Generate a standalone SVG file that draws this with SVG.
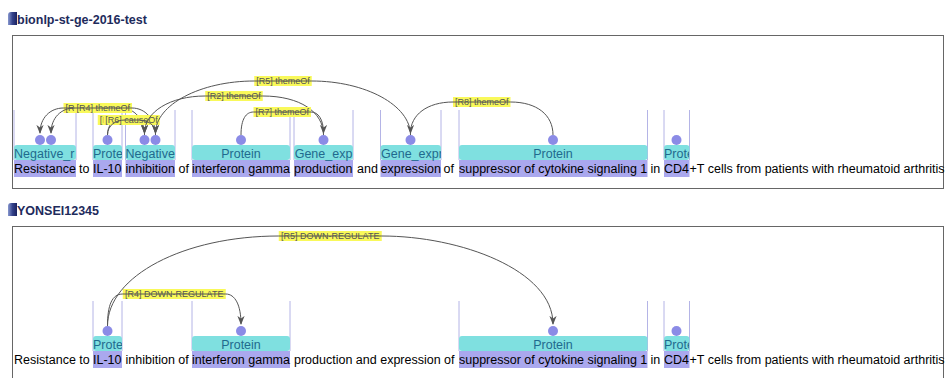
<svg xmlns="http://www.w3.org/2000/svg" width="946" height="378" viewBox="0 0 946 378">
<defs>
<style>
.title{font:bold 12.5px "Liberation Sans",Arial,sans-serif;fill:#1e2b5c}
.sent{font:12.5px "Liberation Sans",Arial,sans-serif;fill:#000}
.lbl{font:12.5px "Liberation Sans",Arial,sans-serif;fill:#1f6a8e}
.hl{fill:#aaa8ee}
.box{fill:#7fe0e0}
.dot{fill:#8b8be6}
.vl{stroke:#b4b4e6;stroke-width:1}
.arc{fill:none;stroke:#555;stroke-width:1;marker-end:url(#arr)}
.al{fill:#f9f95a}
.at{font:9px "Liberation Sans",Arial,sans-serif;fill:#555;text-anchor:middle}
.panel{fill:#fff;stroke:#666;stroke-width:1}
.mid{text-anchor:middle}
</style>
<marker id="arr" viewBox="0 0 10 10" refX="9" refY="5" markerWidth="9" markerHeight="9" markerUnits="userSpaceOnUse" orient="auto">
<path d="M0,1 L10,5 L0,9 L3,5 z" fill="#555"/>
</marker>
<linearGradient id="ico" x1="0" y1="0" x2="1" y2="0">
<stop offset="0" stop-color="#8898d0"/>
<stop offset="0.5" stop-color="#34428a"/>
<stop offset="1" stop-color="#1a2260"/>
</linearGradient>
<clipPath id="c1"><rect x="14" y="140" width="62" height="22"/></clipPath>
<clipPath id="c2"><rect x="93" y="140" width="29" height="22"/></clipPath>
<clipPath id="c6"><rect x="380.5" y="140" width="60.5" height="22"/></clipPath>
<clipPath id="c8"><rect x="664" y="140" width="25" height="22"/></clipPath>
</defs>
<rect width="946" height="378" fill="#fff"/>

<!-- Panel 1 -->
<g id="panel1">
<path d="M8,15 Q8,12 11,12 L17,12 L17,25 L8,25 Z" fill="url(#ico)"/>
<text class="title" x="17" y="24">bionlp-st-ge-2016-test</text>
<rect class="panel" x="12.5" y="35.5" width="931" height="153"/>
<g id="p1-lines">
<line class="vl" x1="14" y1="110" x2="14" y2="160"/><line class="vl" x1="76" y1="110" x2="76" y2="160"/>
<line class="vl" x1="93" y1="110" x2="93" y2="160"/><line class="vl" x1="122" y1="110" x2="122" y2="160"/>
<line class="vl" x1="125.5" y1="110" x2="125.5" y2="160"/><line class="vl" x1="175" y1="110" x2="175" y2="160"/>
<line class="vl" x1="192" y1="110" x2="192" y2="160"/><line class="vl" x1="290" y1="110" x2="290" y2="160"/>
<line class="vl" x1="294" y1="110" x2="294" y2="160"/><line class="vl" x1="353" y1="110" x2="353" y2="160"/>
<line class="vl" x1="380.5" y1="110" x2="380.5" y2="160"/><line class="vl" x1="441" y1="110" x2="441" y2="160"/>
<line class="vl" x1="459" y1="110" x2="459" y2="160"/><line class="vl" x1="647.5" y1="110" x2="647.5" y2="160"/>
<line class="vl" x1="664" y1="110" x2="664" y2="160"/><line class="vl" x1="689.5" y1="110" x2="689.5" y2="160"/>
</g>
<g id="p1-n1"><rect class="box" x="14" y="145" width="62" height="15" rx="3"/><rect class="hl" x="14" y="160" width="62" height="17"/><circle class="dot" cx="40" cy="140" r="5"/><circle class="dot" cx="51" cy="140" r="5"/><text class="lbl" x="14" y="158" clip-path="url(#c1)">Negative_r</text><text class="sent" x="14" y="173">Resistance</text></g>
<text class="sent" x="79" y="173">to</text>
<g id="p1-n2"><rect class="box" x="93" y="145" width="29" height="15" rx="3"/><rect class="hl" x="93" y="160" width="29" height="17"/><circle class="dot" cx="107.5" cy="140" r="5"/><text class="lbl" x="93" y="158" clip-path="url(#c2)">Prote</text><text class="sent" x="93" y="173">IL-10</text></g>
<g id="p1-n3"><rect class="box" x="125.5" y="145" width="49.5" height="15" rx="3"/><rect class="hl" x="125.5" y="160" width="49.5" height="17"/><circle class="dot" cx="144.5" cy="140" r="5"/><circle class="dot" cx="155.5" cy="140" r="5"/><text class="lbl" x="125.5" y="158">Negative</text><text class="sent" x="125.5" y="173">inhibition</text></g>
<text class="sent" x="178.5" y="173">of</text>
<g id="p1-n4"><rect class="box" x="192" y="145" width="98" height="15" rx="3"/><rect class="hl" x="192" y="160" width="98" height="17"/><circle class="dot" cx="241" cy="140" r="5"/><text class="lbl mid" x="241" y="158">Protein</text><text class="sent" x="192" y="173">interferon gamma</text></g>
<g id="p1-n5"><rect class="box" x="294" y="145" width="59" height="15" rx="3"/><rect class="hl" x="294" y="160" width="59" height="17"/><circle class="dot" cx="323.5" cy="140" r="5"/><text class="lbl mid" x="323.5" y="158">Gene_exp</text><text class="sent" x="294" y="173">production</text></g>
<text class="sent" x="357" y="173">and</text>
<g id="p1-n6"><rect class="box" x="380.5" y="145" width="60.5" height="15" rx="3"/><rect class="hl" x="380.5" y="160" width="60.5" height="17"/><circle class="dot" cx="410.5" cy="140" r="5"/><text class="lbl" x="381" y="158" clip-path="url(#c6)">Gene_expr</text><text class="sent" x="380.5" y="173">expression</text></g>
<text class="sent" x="443.5" y="173">of</text>
<g id="p1-n7"><rect class="box" x="459" y="145" width="188.5" height="15" rx="3"/><rect class="hl" x="459" y="160" width="188.5" height="17"/><circle class="dot" cx="553" cy="140" r="5"/><text class="lbl mid" x="553" y="158">Protein</text><text class="sent" x="459" y="173">suppressor of cytokine signaling 1</text></g>
<text class="sent" x="650.5" y="173">in</text>
<g id="p1-n8"><rect class="box" x="664" y="145" width="25.5" height="15" rx="3"/><rect class="hl" x="664" y="160" width="25.5" height="17"/><circle class="dot" cx="676.5" cy="140" r="5"/><text class="lbl" x="664" y="158" clip-path="url(#c8)">Prote</text><text class="sent" x="664" y="173">CD4</text></g>
<text class="sent" x="689.5" y="173">+T cells from patients with rheumatoid arthritis</text>

<g id="p1-connectors">
<g id="p1-R3"><rect class="al" x="63.5" y="103" width="57.5" height="10"/><text class="at" x="92.25" y="111.2">[R3] themeOf</text><path class="arc" d="M144.5,135 C144.5,119 134,108 121,108 L63.5,108 C50,108 40,118 40,133"/></g>
<g id="p1-R4"><rect class="al" x="74.5" y="103" width="57.5" height="10"/><text class="at" x="103.25" y="111.2">[R4] themeOf</text><path class="arc" d="M155.5,135 C155.5,119 145,108 132,108 L74.5,108 C61,108 51,118 51,133"/></g>
<g id="p1-R1"><rect class="al" x="97.75" y="115" width="56.5" height="10"/><text class="at" x="126" y="123.2">[R1] causeOf</text><path class="arc" d="M107.5,135 C107.5,125 113,120 120,120 L132,120 C139,120 144.5,125 144.5,133"/></g>
<g id="p1-R6"><rect class="al" x="103.25" y="115" width="56.5" height="10"/><text class="at" x="131.5" y="123.2">[R6] causeOf</text><path class="arc" d="M107.5,135 C107.5,125 116,120 125,120 L138,120 C148,120 155.5,125 155.5,133"/></g>
<g id="p1-R2"><rect class="al" x="205.25" y="91" width="57.5" height="10"/><text class="at" x="234" y="99.2">[R2] themeOf</text><path class="arc" d="M323.5,135 C323.5,112 300,96 262.75,96 L205.25,96 C170,96 144.5,112 144.5,133"/></g>
<g id="p1-R5"><rect class="al" x="254.25" y="76" width="57.5" height="10"/><text class="at" x="283" y="84.2">[R5] themeOf</text><path class="arc" d="M410.5,135 C410.5,105 365,81 311.75,81 L254.25,81 C200,81 155.5,105 155.5,133"/></g>
<g id="p1-R7"><rect class="al" x="253.5" y="107" width="57.5" height="10"/><text class="at" x="282.25" y="115.2">[R7] themeOf</text><path class="arc" d="M241,135 C241,119 246,112 253.5,112 L311,112 C318,112 323.5,119 323.5,133"/></g>
<g id="p1-R8"><rect class="al" x="453" y="97" width="57.5" height="10"/><text class="at" x="481.75" y="105.2">[R8] themeOf</text><path class="arc" d="M553,135 C553,115 537,102 510.5,102 L453,102 C427,102 410.5,115 410.5,133"/></g>
</g>
</g>

<!-- Panel 2 -->
<g id="panel2" transform="translate(0,191)">
<path d="M8,15 Q8,12 11,12 L17,12 L17,25 L8,25 Z" fill="url(#ico)"/>
<text class="title" x="17" y="24">YONSEI12345</text>
<rect class="panel" x="12.5" y="35.5" width="931" height="153"/>
<g id="p2-lines">
<line class="vl" x1="93" y1="110" x2="93" y2="160"/><line class="vl" x1="122" y1="110" x2="122" y2="160"/>
<line class="vl" x1="192" y1="110" x2="192" y2="160"/><line class="vl" x1="290" y1="110" x2="290" y2="160"/>
<line class="vl" x1="459" y1="110" x2="459" y2="160"/><line class="vl" x1="647.5" y1="110" x2="647.5" y2="160"/>
<line class="vl" x1="664" y1="110" x2="664" y2="160"/><line class="vl" x1="689.5" y1="110" x2="689.5" y2="160"/>
</g>
<text class="sent" x="14" y="173">Resistance to</text>
<g id="p2-n1"><rect class="box" x="93" y="145" width="29" height="15" rx="3"/><rect class="hl" x="93" y="160" width="29" height="17"/><circle class="dot" cx="107.5" cy="140" r="5"/><text class="lbl" x="93" y="158" clip-path="url(#c2)">Prote</text><text class="sent" x="93" y="173">IL-10</text></g>
<text class="sent" x="125.5" y="173">inhibition of</text>
<g id="p2-n2"><rect class="box" x="192" y="145" width="98" height="15" rx="3"/><rect class="hl" x="192" y="160" width="98" height="17"/><circle class="dot" cx="241" cy="140" r="5"/><text class="lbl mid" x="241" y="158">Protein</text><text class="sent" x="192" y="173">interferon gamma</text></g>
<text class="sent" x="294" y="173">production and expression of</text>
<g id="p2-n3"><rect class="box" x="459" y="145" width="188.5" height="15" rx="3"/><rect class="hl" x="459" y="160" width="188.5" height="17"/><circle class="dot" cx="553" cy="140" r="5"/><text class="lbl mid" x="553" y="158">Protein</text><text class="sent" x="459" y="173">suppressor of cytokine signaling 1</text></g>
<text class="sent" x="650.5" y="173">in</text>
<g id="p2-n4"><rect class="box" x="664" y="145" width="25.5" height="15" rx="3"/><rect class="hl" x="664" y="160" width="25.5" height="17"/><circle class="dot" cx="676.5" cy="140" r="5"/><text class="lbl" x="664" y="158" clip-path="url(#c8)">Prote</text><text class="sent" x="664" y="173">CD4</text></g>
<text class="sent" x="689.5" y="173">+T cells from patients with rheumatoid arthritis</text>
<g id="p2-connectors">
<g id="p2-R4"><rect class="al" x="122.75" y="98" width="103" height="10"/><text class="at" x="174.25" y="106.2">[R4] DOWN-REGULATE</text><path class="arc" d="M107.5,135 C107.5,114 112,103 122.75,103 L225.75,103 C235,103 241,114 241,133"/></g>
<g id="p2-R5"><rect class="al" x="278.75" y="40" width="103" height="10"/><text class="at" x="330.25" y="48.2">[R5] DOWN-REGULATE</text><path class="arc" d="M107.5,135 C107.5,85 184,45 278.75,45 L381.75,45 C460,45 553,79 553,133"/></g>
</g>
</g>
</svg>
